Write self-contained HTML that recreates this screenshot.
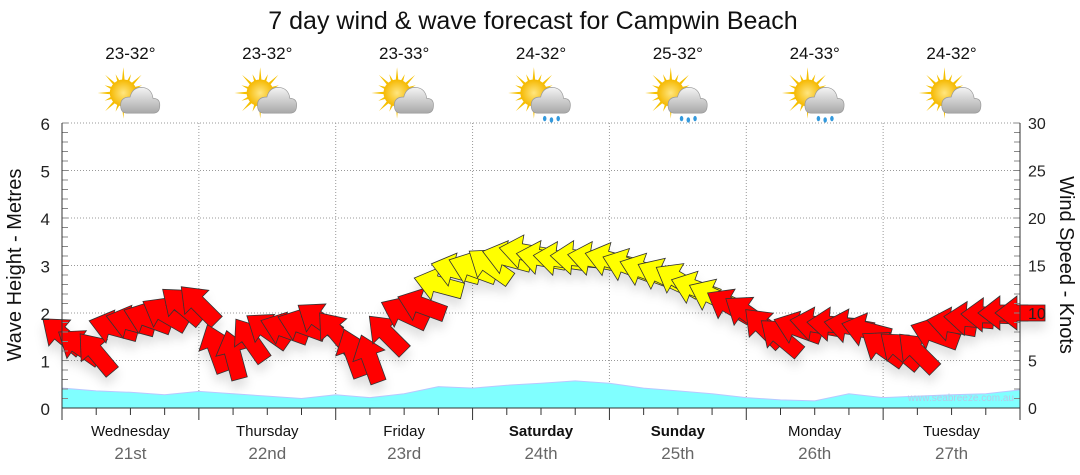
<!DOCTYPE html>
<html><head><meta charset="utf-8"><style>
body{margin:0;background:#fff;font-family:"Liberation Sans",sans-serif}
svg{display:block}
</style></head><body>
<svg id="c" width="1080" height="475" xmlns="http://www.w3.org/2000/svg">
<defs>
<filter id="sh" x="-50%" y="-50%" width="200%" height="200%"><feDropShadow dx="0" dy="8" stdDeviation="5" flood-color="#000" flood-opacity="0.12"/></filter>
<radialGradient id="sun" cx="0.5" cy="0.5" r="0.5"><stop offset="0" stop-color="#ffe680"/><stop offset="1" stop-color="#f5b800"/></radialGradient>
<linearGradient id="cl" x1="0" y1="0" x2="0" y2="1"><stop offset="0" stop-color="#f4f4f4"/><stop offset="1" stop-color="#a8a8a8"/></linearGradient>
</defs>
<text x="533" y="29" font-size="25" text-anchor="middle" fill="#111">7 day wind &amp; wave forecast for Campwin Beach</text>
<g id="grid"></g><g id="wave"></g><g id="wind" filter="url(#sh)"></g><g id="axes"></g><g id="top"></g>
<text x="1014" y="401" font-size="10" fill="#b8c8e8" text-anchor="end">www.seabreeze.com.au</text>
<text transform="translate(21,265) rotate(-90)" font-size="20" text-anchor="middle" fill="#111">Wave Height - Metres</text>
<text transform="translate(1060,265) rotate(90)" font-size="20" text-anchor="middle" fill="#111">Wind Speed - Knots</text>
</svg>
<script>
const days=["Wednesday","Thursday","Friday","Saturday","Sunday","Monday","Tuesday"];
const dates=["21st","22nd","23rd","24th","25th","26th","27th"];
const boldDays=[false,false,false,true,true,false,false];
const temps=["23-32°","23-32°","23-33°","24-32°","25-32°","24-33°","24-32°"];
const rainy=[false,false,false,true,true,true,false];
const waveTicks=[0,1,2,3,4,5,6];
const windTicks=[0,5,10,15,20,25,30];
// wave heights every 6 hours (m)
const wave=[0.42,0.36,0.33,0.28,0.35,0.3,0.25,0.2,0.28,0.22,0.3,0.45,0.42,0.48,0.52,0.57,0.52,0.42,0.36,0.3,0.22,0.17,0.15,0.3,0.22,0.25,0.28,0.3,0.38];
// wind speed every 3 hours (knots)
const windSpeed=[7.7,6.5,5.8,8.5,9.0,9.4,9.9,10.8,10.9,6.3,5.6,7.2,8.2,8.3,8.7,9.3,8.0,5.8,5.2,7.8,10.0,10.8,13.0,14.5,14.7,15.0,15.8,16.4,15.8,15.7,15.8,15.7,15.6,15.0,14.5,14.0,13.5,12.6,11.8,10.8,10.0,8.5,7.5,8.4,8.8,8.8,8.6,8.2,6.3,6.1,5.9,7.8,8.8,9.4,9.8,10.0,10.0];
// arrow pointing angle (screen degrees, 180 = left)
const windDir=[220,215,230,195,195,200,210,220,225,250,255,235,215,200,200,215,230,250,250,225,205,200,195,195,200,215,195,190,190,188,185,190,195,200,200,205,210,200,205,210,215,225,220,200,190,185,190,195,215,220,225,200,190,185,182,180,180];

const NS="http://www.w3.org/2000/svg";
const X0=62,X1=1020,Y0=408,Y1=123,HOURS=168;
const xH=h=>X0+(X1-X0)*h/HOURS;
const yM=m=>Y0-(Y0-Y1)*m/6;
const yK=k=>Y0-(Y0-Y1)*k/30;
function mk(tag,attrs,parent){const e=document.createElementNS(NS,tag);for(const k in attrs)e.setAttribute(k,attrs[k]);parent.appendChild(e);return e;}
const grid=document.getElementById('grid'),axes=document.getElementById('axes'),top_=document.getElementById('top');
waveTicks.forEach(t=>{if(t>0){const l=mk('line',{x1:X0,x2:X1,y1:yM(t),y2:yM(t),stroke:'#999','stroke-dasharray':'1,2','stroke-width':1},grid);

}
const tx=mk('text',{x:50,y:yM(t)+7,'font-size':17,'text-anchor':'end',fill:'#222'},axes);tx.textContent=t;

});
windTicks.forEach(t=>{const tx=mk('text',{x:1028,y:yK(t)+6,'font-size':16,fill:'#222'},axes);tx.textContent=t;

});
for(let d=1;d<7;d++){const l=mk('line',{x1:xH(d*24),x2:xH(d*24),y1:Y1,y2:Y0,stroke:'#999','stroke-dasharray':'1,2'},grid);

}
for(let i=0;i<=30;i++){const y=Y0-(Y0-Y1)*i/30;
mk('line',{x1:X0,x2:X0+6,y1:y,y2:y,stroke:'#888'},axes);mk('line',{x1:X1-6,x2:X1,y1:y,y2:y,stroke:'#888'},axes);}
for(let h=0;h<=HOURS;h+=6){mk('line',{x1:xH(h),x2:xH(h),y1:Y0,y2:Y0+(h%24==0?12:7),stroke:'#333'},axes);}
mk('line',{x1:X0,x2:X0,y1:Y1,y2:Y0,stroke:'#333'},axes);
mk('line',{x1:X1,x2:X1,y1:Y1,y2:Y0,stroke:'#333'},axes);
mk('line',{x1:X0,x2:X1,y1:Y0,y2:Y0,stroke:'#333'},axes);
let d='M'+X0+','+Y0;wave.forEach((v,i)=>{d+=' L'+xH(i*6).toFixed(1)+','+yM(v).toFixed(1);});d+=' L'+X1+','+Y0+' Z';
const wa=mk('path',{d:d,fill:'#80ffff',stroke:'#b8c8ff','stroke-width':1},document.getElementById('wave'));


const wind=document.getElementById('wind');
windSpeed.forEach((s,i)=>{const x=xH(i*3),y=yK(s);
const p=mk('polygon',{points:'-25,-8 3,-8 3,-17 25,0 3,17 3,8 -25,8',transform:`translate(${x.toFixed(1)},${y.toFixed(1)}) rotate(${windDir[i]})`,fill:s>=11?'#ffff00':'#ff0000',stroke:'#333','stroke-width':0.8},wind);

});
days.forEach((n,i)=>{const cx=xH(i*24+12);
const t=mk('text',{x:cx,y:436,'font-size':15,'text-anchor':'middle',fill:'#111','font-weight':boldDays[i]?'bold':'normal'},top_);t.textContent=n;


const t2=mk('text',{x:cx,y:459,'font-size':17,'text-anchor':'middle',fill:'#666'},top_);t2.textContent=dates[i];


const t3=mk('text',{x:cx,y:59,'font-size':17,'text-anchor':'middle',fill:'#111'},top_);t3.textContent=temps[i];


const g=mk('g',{transform:`translate(${cx+1},97) scale(1.35)`},top_);


for(let a=0;a<16;a++){const r=a%2?15:19;const ang=a*Math.PI/8;const bx=-6,by=-3;
mk('polygon',{points:`${bx+Math.cos(ang-0.14)*8},${by+Math.sin(ang-0.14)*8} ${bx+Math.cos(ang)*r},${by+Math.sin(ang)*r} ${bx+Math.cos(ang+0.14)*8},${by+Math.sin(ang+0.14)*8}`,fill:'#f5c000'},g);}
mk('circle',{cx:-6,cy:-3,r:10,fill:'url(#sun)'},g);
mk('path',{d:'M-3,12 Q-8,12 -8,6 Q-8,0 -1,0 Q1,-8 9,-7 Q15,-6 16,1 Q21,1 21,6 Q21,12 16,12 Z',fill:'url(#cl)',stroke:'#999','stroke-width':0.5},g);
if(rainy[i]){[[2,16],[7,17],[12,16]].forEach(q=>mk('ellipse',{cx:q[0],cy:q[1],rx:1.3,ry:2,fill:'#3399dd'},g));}
});
</script>
</body></html>
